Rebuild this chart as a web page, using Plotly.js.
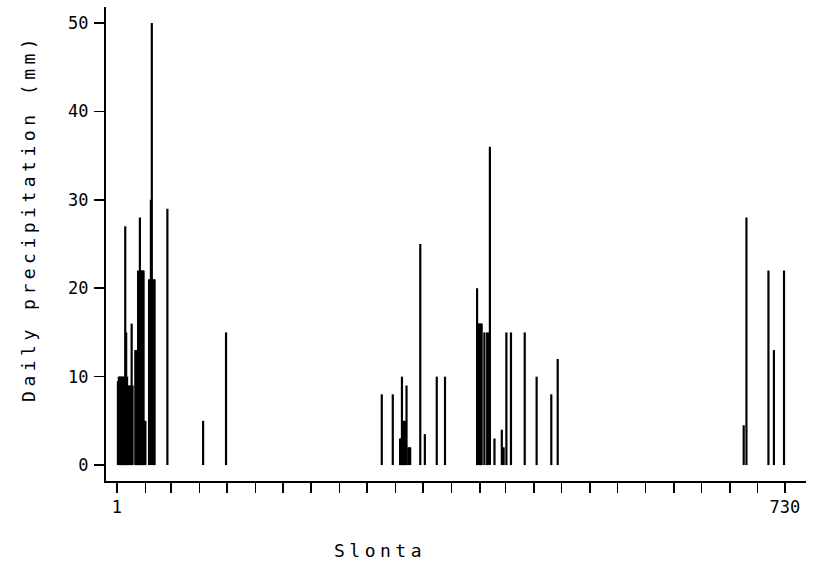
<!DOCTYPE html>
<html>
<head>
<meta charset="utf-8">
<script src="https://cdn.plot.ly/plotly-3.0.1.min.js"></script>
<style>
  html, body { margin: 0; padding: 0; background: #fff; }
  #chart { width: 822px; height: 573px; }
  .annotation-text { letter-spacing: 4.5px; }
</style>
</head>
<body>
<div id="chart"></div>
<script>
// Day number (1..730) of each rainy day and its precipitation (mm)
const rainDay = [
  2, 3, 4, 5, 6, 7, 8, 9, 10, 11, 12, 13,
  15, 16, 17, 18,
  21, 22, 23, 24, 25, 26, 27, 28, 29, 30, 31, 32,
  36, 37, 38, 39, 40, 41, 42,
  56, 95, 120,
  290, 302, 310, 311, 312, 313, 314, 315, 316, 317, 319, 320, 321, 332, 337, 350, 359,
  394, 395, 396, 397, 398, 399, 402, 405, 407, 408, 413, 421, 422, 423, 426, 431, 446, 459, 475, 482,
  685, 688, 712, 718, 729
];
const rainMm = [
  9.5, 10, 10, 10, 10, 10, 10, 10, 27, 15, 10, 9,
  9, 9, 16, 9,
  13, 13, 13, 22, 13, 28, 22, 22, 22, 22, 5, 5,
  21, 21, 30, 50, 21, 21, 21,
  29, 5, 15,
  8, 8, 3, 3, 10, 5, 5, 5, 5, 9, 2, 2, 2, 25, 3.5, 10, 10,
  20, 16, 16, 16, 16, 16, 15, 15, 15, 36, 3, 4, 2, 2, 15, 15, 15, 10, 8, 12,
  4.5, 28, 22, 13, 22
];
// x-axis ticks at the first day of each month over two years
const monthTickDays = [1, 32, 60, 91, 121, 152, 182, 213, 244, 274, 305, 335,
                       366, 397, 425, 456, 486, 517, 547, 578, 609, 639, 670, 700, 730];
const monthTickText = monthTickDays.map(function (d, i) {
  return i === 0 ? '1' : (i === monthTickDays.length - 1 ? '730' : '');
});
const yTickVals = [0, 10, 20, 30, 40, 50];
const xTitle = 'Slonta';
const yTitle = 'Daily precipitation (mm)';

const font = 'DejaVu Sans Mono, Liberation Mono, monospace';

const trace = {
  type: 'bar',
  x: rainDay,
  y: rainMm,
  width: 2.4,
  marker: { color: '#000', line: { width: 0 } },
  hoverinfo: 'x+y'
};

const layout = {
  width: 822,
  height: 573,
  margin: { l: 106, r: 16, t: 7, b: 92 },
  paper_bgcolor: '#fff',
  plot_bgcolor: '#fff',
  showlegend: false,
  font: { family: font, color: '#000', size: 17 },
  xaxis: {
    range: [-11, 753],
    tickvals: monthTickDays,
    ticktext: monthTickText,
    ticks: 'outside',
    ticklen: 10,
    tickwidth: 1.5,
    tickcolor: '#000',
    showline: true,
    linewidth: 2,
    linecolor: '#000',
    showgrid: false,
    zeroline: false,
    tickfont: { family: font, size: 17, color: '#000' },
    fixedrange: true
  },
  yaxis: {
    range: [-1.8, 51.8],
    tickvals: yTickVals,
    ticks: 'outside',
    ticklen: 10,
    tickwidth: 1.5,
    tickcolor: '#000',
    showline: true,
    linewidth: 2,
    linecolor: '#000',
    showgrid: false,
    zeroline: false,
    ticklabelstandoff: 2,
    tickfont: { family: font, size: 17, color: '#000' },
    fixedrange: true
  },
  annotations: [
    {
      text: yTitle,
      xref: 'paper', yref: 'paper',
      x: -0.11, y: 0.555,
      xanchor: 'center', yanchor: 'middle',
      textangle: -90,
      showarrow: false,
      font: { family: font, size: 18, color: '#000' }
    },
    {
      text: xTitle,
      xref: 'paper', yref: 'paper',
      x: 0.391, y: -0.1456,
      xanchor: 'center', yanchor: 'middle',
      showarrow: false,
      font: { family: font, size: 18, color: '#000' }
    }
  ]
};

Plotly.newPlot('chart', [trace], layout, { displayModeBar: false, staticPlot: true });
</script>
</body>
</html>
